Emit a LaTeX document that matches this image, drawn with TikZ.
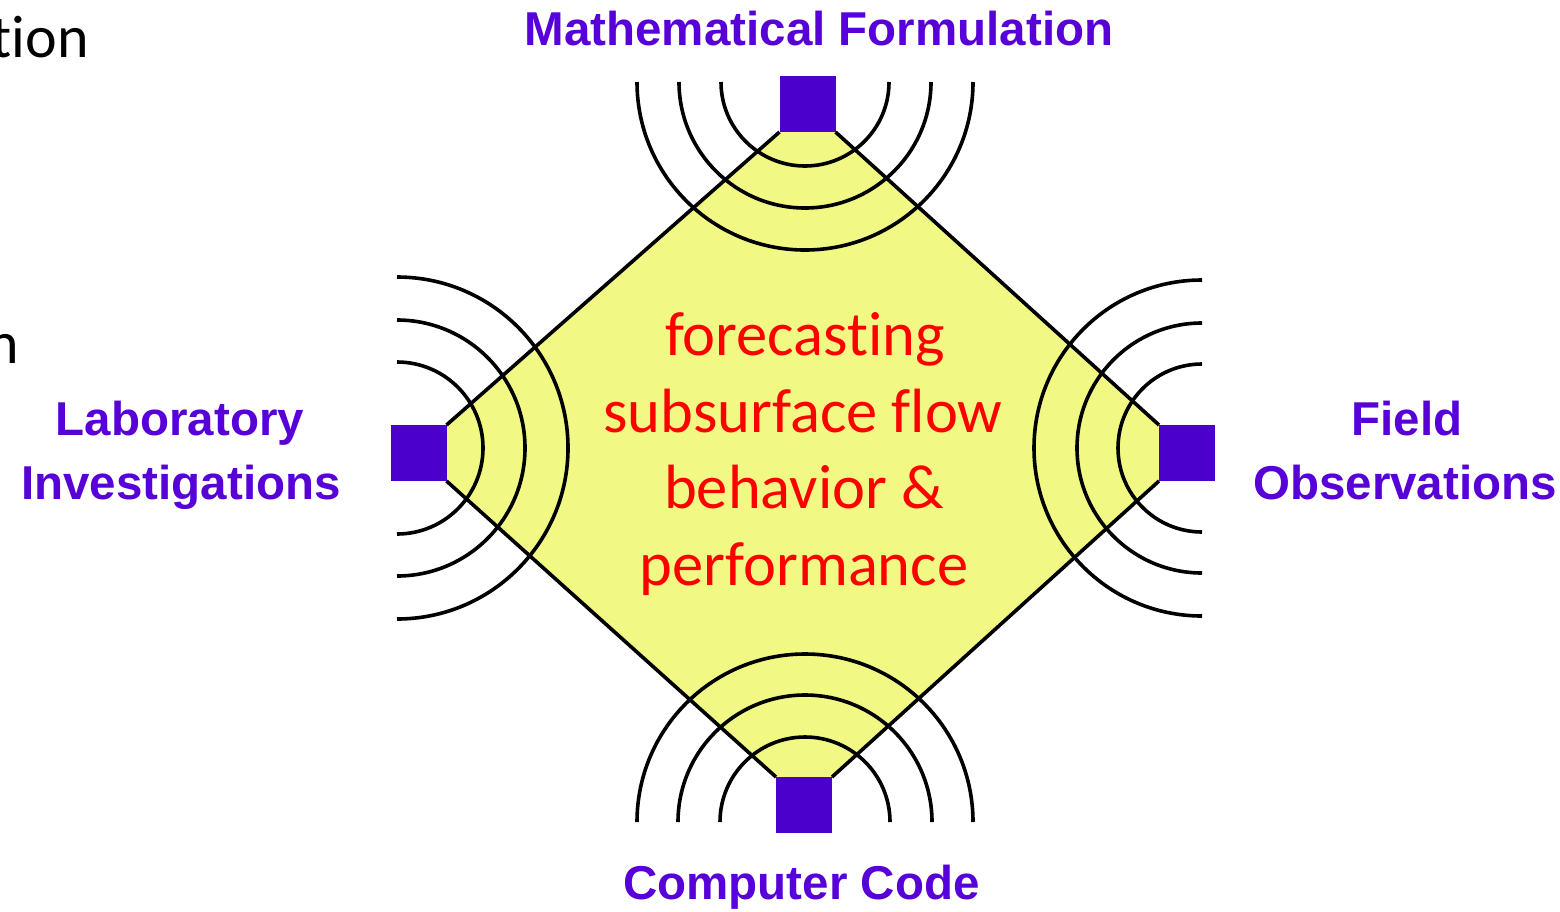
\documentclass[tikz,border=0pt]{standalone}
\usepackage{fontspec}
\usetikzlibrary{backgrounds}
\newfontfamily\arialf{Liberation Sans}
\newfontfamily\calf[Ligatures=NoCommon]{Carlito}
\definecolor{sqc}{RGB}{75,0,204}
\definecolor{lblc}{RGB}{88,0,216}
\definecolor{yel}{RGB}{242,248,132}
\begin{document}
\begin{tikzpicture}[x=1pt,y=1pt,
  sq/.style={fill=sqc,draw=none,minimum size=56pt,inner sep=0pt,outer sep=0pt},
  lbl/.style={text=lblc,font=\arialf\bfseries\fontsize{47.5}{56}\selectfont,anchor=base,inner sep=0pt},
  fctext/.style={text=red,font=\calf\fontsize{62.5}{76}\selectfont,anchor=base,inner sep=0pt},
  frag/.style={text=black,font=\calf\fontsize{60}{72}\selectfont,anchor=base east,inner sep=0pt},
  wave/.style={line width=3.6pt,black},
  dmd/.style={line width=3.6pt,black,line join=miter}]
\useasboundingbox (0,0) rectangle (1560,-911);
% squares
\node[sq] (top) at (807.5,-104) {};
\node[sq] (left) at (418.5,-453) {};
\node[sq] (right) at (1187,-453) {};
\node[sq] (bottom) at (804,-805) {};
% wave centres
\coordinate (tc) at (805,-82);
\coordinate (bc) at (805,-822);
\coordinate (lc) at (397,-448);
\coordinate (rc) at (1202,-448);
\begin{pgfonlayer}{background}
\fill[white] (0,0) rectangle (1560,-911);
\fill[yel] (top.south west) -- (left.north east) -- (left.south east) -- (bottom.north west)
  -- (bottom.north east) -- (right.south west) -- (right.north west) -- (top.south east) -- cycle;
\foreach \r in {84,126,168}
  \draw[wave] ([xshift=-\r pt]tc) arc[start angle=180,end angle=360,radius=\r pt];
\foreach \r in {85,127,168}
  \draw[wave] ([xshift=\r pt]bc) arc[start angle=0,end angle=180,radius=\r pt];
\foreach \r in {86,128,171}
  \draw[wave] ([yshift=\r pt]lc) arc[start angle=90,end angle=-90,radius=\r pt];
\foreach \r in {84,125,168}
  \draw[wave] ([yshift=\r pt]rc) arc[start angle=90,end angle=270,radius=\r pt];
\draw[dmd] (top.south west) -- (left.north east);
\draw[dmd] (left.south east) -- (bottom.north west);
\draw[dmd] (bottom.north east) -- (right.south west);
\draw[dmd] (right.north west) -- (top.south east);
\end{pgfonlayer}
% labels
\node[lbl] (math) at (819,-45) {Mathematical Formulation};
\node[lbl] (code) at (801.5,-899) {Computer Code};
\node[lbl] (lab1) at (180,-435) {Laboratory};
\node[lbl] (lab2) at (181,-499) {Investigations};
\node[lbl] (fld1) at (1407,-435) {Field};
\node[lbl] (fld2) at (1405,-499) {Observations};
% centre text
\node[fctext] (fc1) at (805,-355) {forecasting};
\node[fctext] (fc2) at (803,-432) {subsurface flow};
\node[fctext] (fc3) at (804,-508) {behavior \&};
\node[fctext] (fc4) at (804,-585) {performance};
% cut-off fragments at the left edge
\begin{scope}
\clip (0,0) rectangle (300,-911);
\node[frag] (frag1) at (89,-57) {tion};
\node[frag] (frag2) at (19,-363) {n};
\end{scope}
\end{tikzpicture}
\end{document}
